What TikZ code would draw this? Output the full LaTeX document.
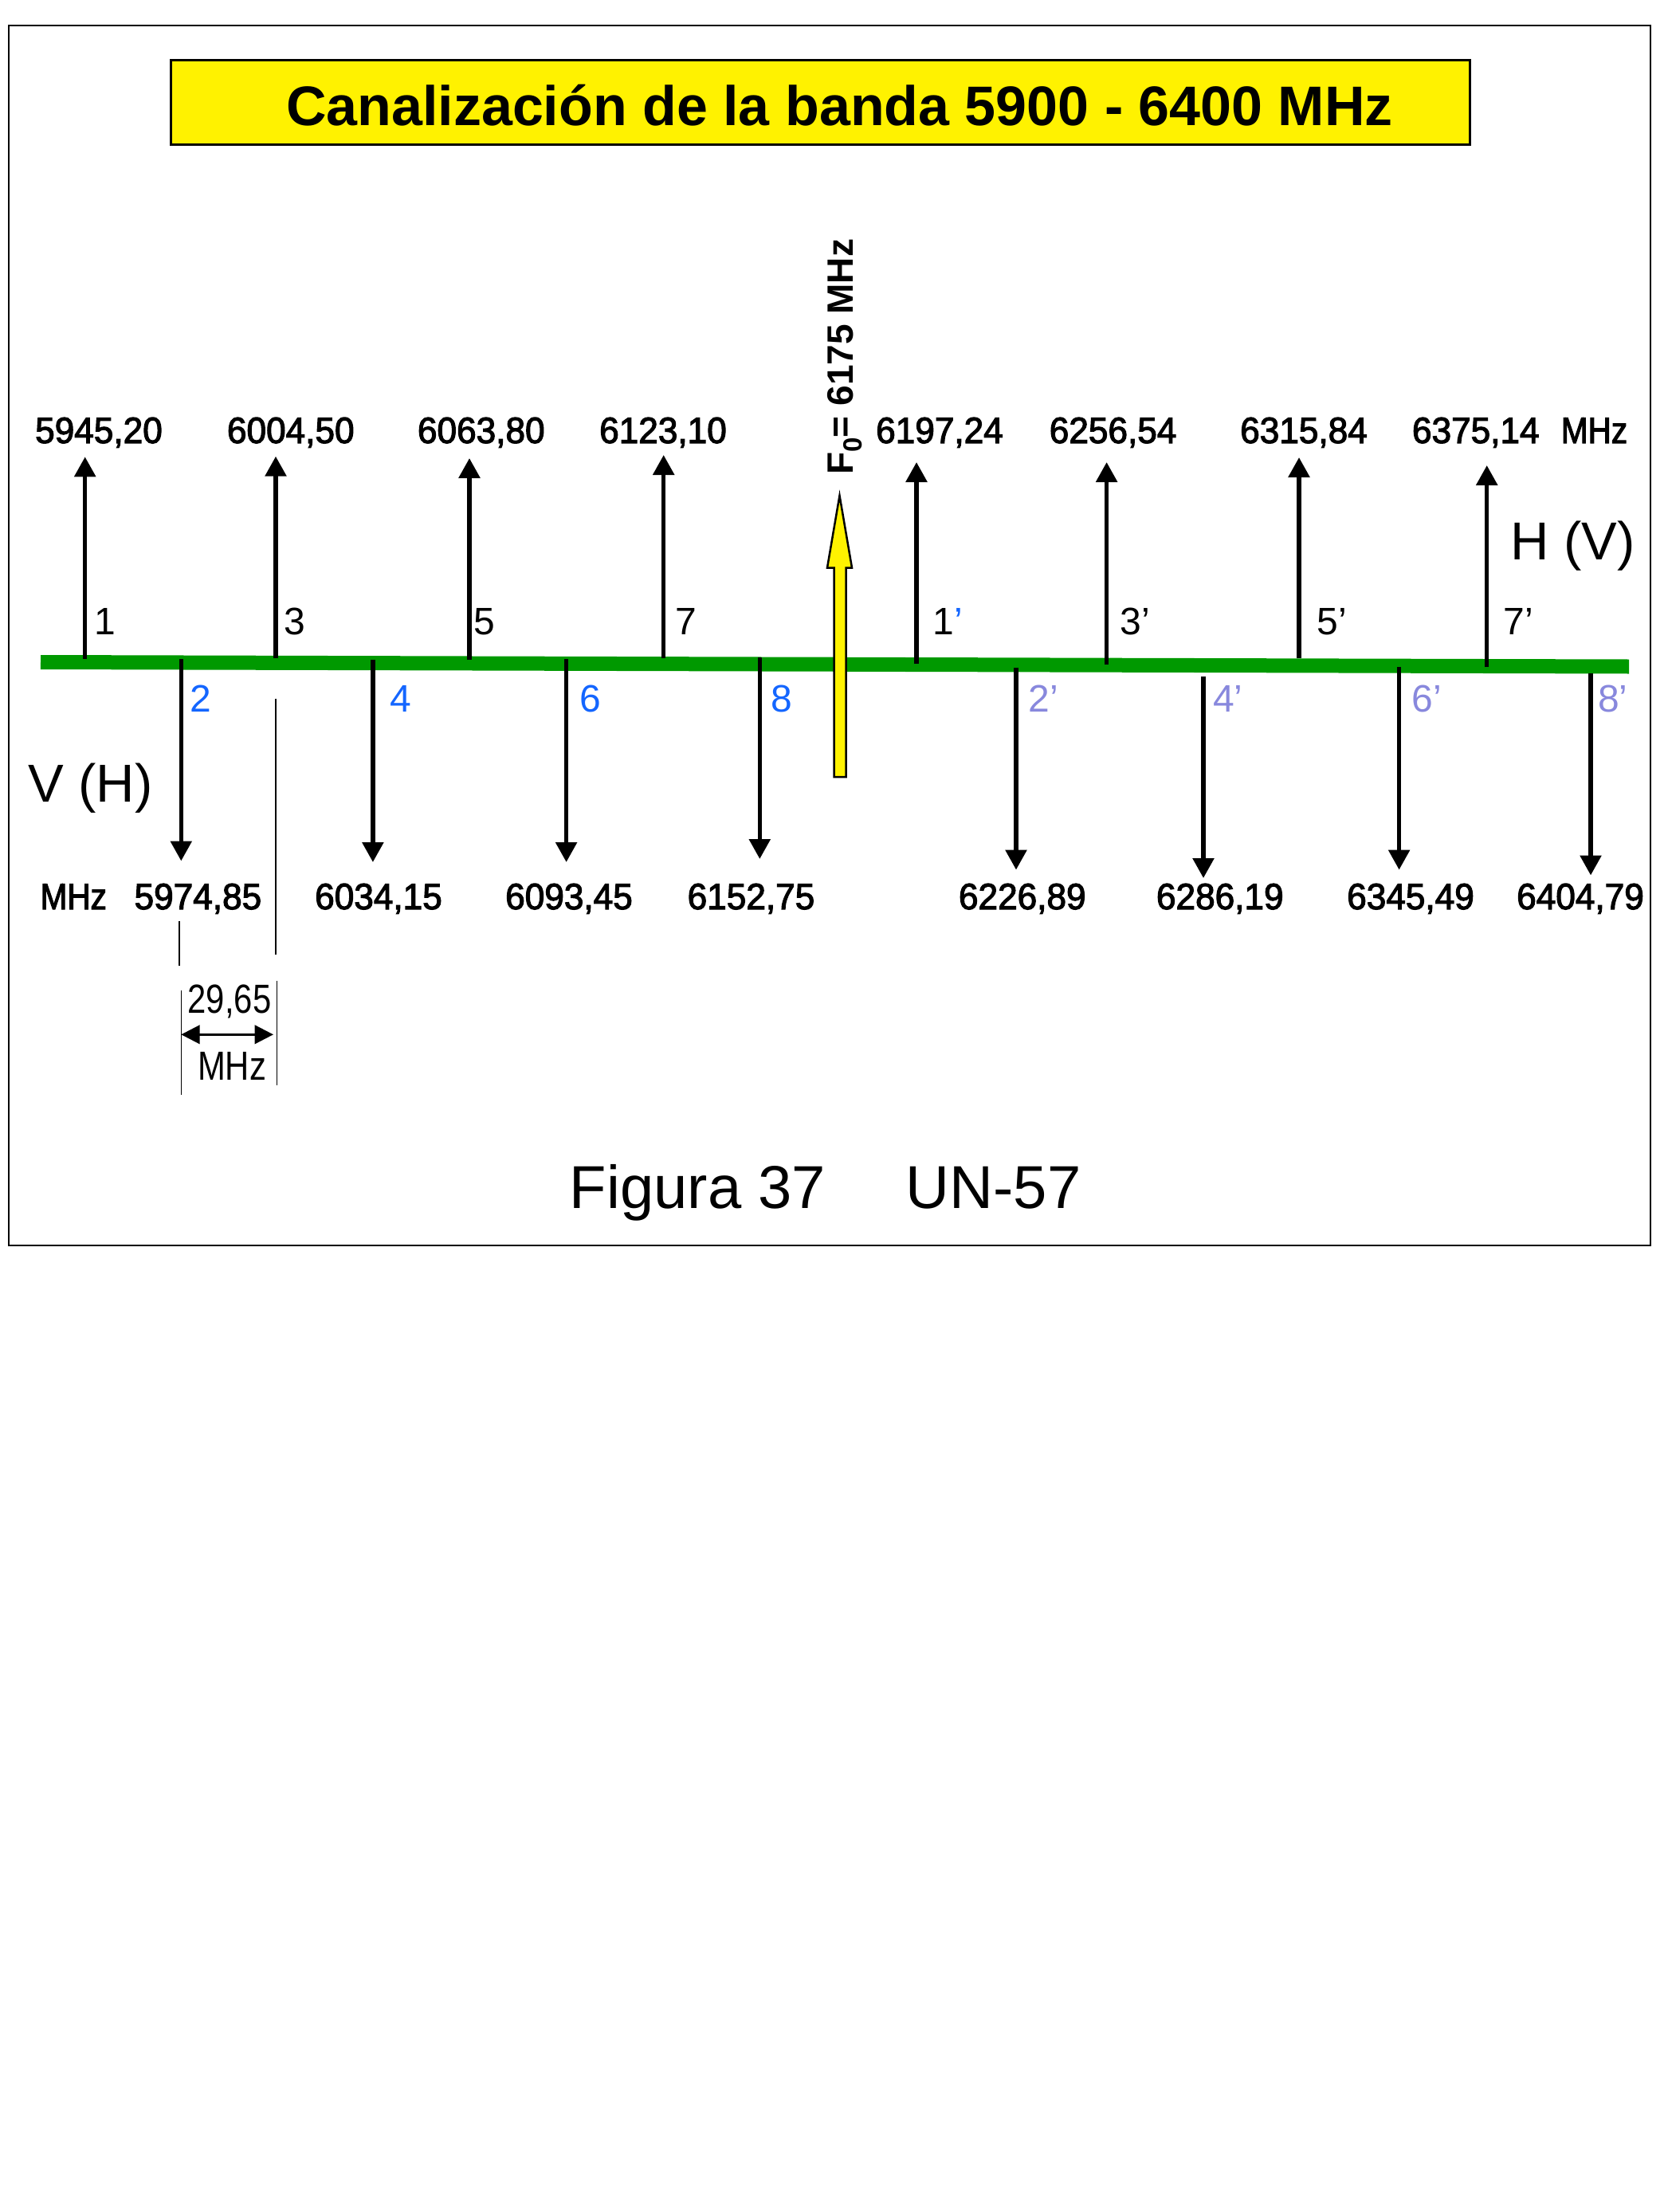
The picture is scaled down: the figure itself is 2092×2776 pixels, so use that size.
\documentclass[tikz,border=0pt]{standalone}
\usepackage{fontspec}
\setmainfont{Liberation Sans}
\newfontfamily\narrowfont[FakeStretch=0.82]{Liberation Sans}
\newfontfamily\semifont[FakeStretch=0.88,FakeBold=2.5]{Liberation Sans}
\newfontfamily\freqfont[FakeStretch=0.96,FakeBold=2.5]{Liberation Sans}
\usetikzlibrary{arrows.meta}
\definecolor{bandgreen}{RGB}{0,153,0}
\definecolor{chblue}{RGB}{20,102,255}
\definecolor{chlav}{RGB}{136,136,221}
\begin{document}
\begin{tikzpicture}[x=0.5pt,y=-0.5pt,
  chan/.style={line width=2.75pt,-{Triangle[length=12.5pt,width=13pt]}},
  freq/.style={inner sep=0,anchor=base,font=\freqfont\fontsize{23}{27}\selectfont},
  mhz/.style={inner sep=0,anchor=base,font=\semifont\fontsize{23}{27}\selectfont},
  chnum/.style={inner sep=0,anchor=base west,font=\fontsize{24}{28}\selectfont},
  pol/.style={inner sep=0,anchor=base west,font=\fontsize{33.5}{38}\selectfont},
  dimline/.style={line width=1pt},
  extline/.style={line width=0.7pt}]
\useasboundingbox (0,0) rectangle (2092,2776);
\fill[white] (0,0) rectangle (2092,2776);
% frame
\draw[line width=1.3pt] (11,32) rectangle (2071,1563);
% title
\node (titlebox) [draw=black, fill=yellow, line width=1.5pt, inner sep=0,
  minimum width=815pt, minimum height=53pt] at (1029,129) {};
\node (title) [inner sep=0, anchor=base, font=\bfseries\fontsize{35}{40}\selectfont]
  at (1053.5,158) {Canalización de la banda 5900 - 6400 MHz};
% band line
\coordinate (bandL) at (51,831);
\coordinate (bandR) at (2044,836.5);
\draw[bandgreen, line width=9pt] (bandL) -- (bandR);
% up arrows
\foreach \n/\x/\yb/\yt in {u1/106.7/827/573.3, u3/346/826/572.7, u5/589/828/575, u7/832.7/826/571,
  u1p/1150/833/580, u3p/1388.6/834/580, u5p/1630/826/574, u7p/1865.7/837/584}{
  \coordinate (\n b) at (\x,\yb);
  \coordinate (\n t) at (\x,\yt);
  \draw[chan] (\n b) -- (\n t);
}
% down arrows
\foreach \n/\x/\yt/\yb in {d2/227.3/827/1080.5, d4/467.9/827.5/1082, d6/710.6/827/1082, d8/953.3/825/1078,
  d2p/1275/837.7/1091.6, d4p/1510/848.6/1102, d6p/1755.6/837/1091.6, d8p/1996/845/1098.5}{
  \coordinate (\n t) at (\x,\yt);
  \coordinate (\n b) at (\x,\yb);
  \draw[chan] (\n t) -- (\n b);
}
% yellow centre arrow
\draw[fill=yellow, line width=1.25pt, line join=miter] (1053.5,622) -- (1069,712.5) -- (1061.5,712.5)
  -- (1061.5,975) -- (1046.5,975) -- (1046.5,712.5) -- (1038,712.5) -- cycle;
\node (fo) [rotate=90, anchor=base west, inner sep=0, font=\bfseries\fontsize{23}{27}\selectfont]
  at (1070,596) {F\raisebox{-5.8pt}{\fontsize{16.5}{18}\selectfont 0}= 6175 MHz};
% top frequencies
\node (f1) [freq] at (124,556) {5945,20};
\node (f3) [freq] at (364.8,556) {6004,50};
\node (f5) [freq] at (603.8,556) {6063,80};
\node (f7) [freq] at (832,556) {6123,10};
\node (f1p) [freq] at (1179,556) {6197,24};
\node (f3p) [freq] at (1396.6,556) {6256,54};
\node (f5p) [freq] at (1636,556) {6315,84};
\node (f7p) [freq] at (1851.8,556) {6375,14};
\node (mhztop) [mhz] at (2000.5,556) {MHz};
% bottom frequencies
\node (mhzbot) [mhz] at (92.3,1141) {MHz};
\node (f2) [freq] at (248.4,1141) {5974,85};
\node (f4) [freq] at (475,1141) {6034,15};
\node (f6) [freq] at (714,1141) {6093,45};
\node (f8) [freq] at (942.5,1141) {6152,75};
\node (f2p) [freq] at (1282.8,1141) {6226,89};
\node (f4p) [freq] at (1530.8,1141) {6286,19};
\node (f6p) [freq] at (1770,1141) {6345,49};
\node (f8p) [freq] at (1983,1141) {6404,79};
% odd channel numbers
\node (n1) [chnum] at (118,796) {1};
\node (n3) [chnum] at (356,796) {3};
\node (n5) [chnum] at (594,796) {5};
\node (n7) [chnum] at (847,796) {7};
\node (n1p) [chnum] at (1170,796.5) {1{\color{chblue}’}};
\node (n3p) [chnum] at (1405,796.5) {3’};
\node (n5p) [chnum] at (1652.5,796.5) {5’};
\node (n7p) [chnum] at (1886,796.5) {7’};
% even channel numbers
\node (n2) [chnum, chblue] at (238.5,893) {2};
\node (n4) [chnum, chblue] at (489,893) {4};
\node (n6) [chnum, chblue] at (727.5,893) {6};
\node (n8) [chnum, chblue] at (967.5,893) {8};
\node (n2p) [chnum, chlav] at (1290.5,893) {2’};
\node (n4p) [chnum, chlav] at (1521.7,893) {4’};
\node (n6p) [chnum, chlav] at (1771,893) {6’};
\node (n8p) [chnum, chlav] at (2004.7,893) {8’};
% polarisation labels
\node (hv) [pol] at (1895,702) {H (V)};
\node (vh) [pol] at (35,1006.7) {V (H)};
% spacing dimension
\coordinate (e3t) at (346,876.5);
\coordinate (e3b) at (346,1197.5);
\coordinate (e2t) at (225,1156);
\coordinate (e2b) at (225,1211.7);
\coordinate (xlt) at (227.3,1242.7);
\coordinate (xlb) at (227.3,1374);
\coordinate (xrt) at (347.3,1230.7);
\coordinate (xrb) at (347.3,1361.7);
\draw[dimline] (e3t) -- (e3b);
\draw[dimline] (e2t) -- (e2b);
\draw[extline] (xlt) -- (xlb);
\draw[extline] (xrt) -- (xrb);
\coordinate (dl) at (227.3,1298.3);
\coordinate (dr) at (343,1298.3);
\draw[line width=1.4pt, {Triangle[length=11.7pt,width=11.7pt]}-{Triangle[length=11.7pt,width=11.7pt]}] (dl) -- (dr);
\node (sp) [inner sep=0, anchor=base, font=\narrowfont\fontsize{25.5}{30}\selectfont] at (288,1271.7) {29,65};
\node (spu) [inner sep=0, anchor=base, font=\narrowfont\fontsize{25.5}{30}\selectfont] at (291,1355) {MHz};
% caption
\node (cap1) [inner sep=0, anchor=base west, font=\fontsize{38}{44}\selectfont] at (714.5,1516) {Figura 37};
\node (cap2) [inner sep=0, anchor=base west, font=\fontsize{38}{44}\selectfont] at (1136.5,1516) {UN-57};
\end{tikzpicture}
\end{document}
